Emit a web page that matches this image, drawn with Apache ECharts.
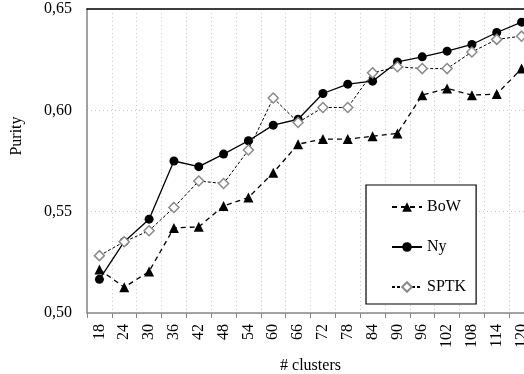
<!DOCTYPE html>
<html>
<head>
<meta charset="utf-8">
<script src="https://cdn.jsdelivr.net/npm/echarts@6/dist/echarts.min.js"></script>
<style>
  html, body { margin: 0; padding: 0; background: #fff; }
  #chart { width: 524px; height: 374px; }
</style>
</head>
<body>
<div id="chart"></div>
<script>
// cluster counts on the x axis
const clusters = ['18', '24', '30', '36', '42', '48', '54', '60', '66', '72', '78', '84', '90', '96', '102', '108', '114', '120'];

// purity values
const bow  = [0.5215, 0.5127, 0.5205, 0.5420, 0.5425, 0.5528, 0.5570, 0.5692, 0.5833, 0.5858, 0.5858, 0.5872, 0.5886, 0.6075, 0.6108, 0.6075, 0.6080, 0.6206];
const ny   = [0.5166, 0.5352, 0.5463, 0.5750, 0.5722, 0.5784, 0.5850, 0.5927, 0.5956, 0.6083, 0.6129, 0.6144, 0.6239, 0.6264, 0.6292, 0.6325, 0.6384, 0.6435];
const sptk = [0.5283, 0.5352, 0.5406, 0.5521, 0.5651, 0.5639, 0.5804, 0.6061, 0.5940, 0.6014, 0.6014, 0.6185, 0.6215, 0.6206, 0.6206, 0.6288, 0.6350, 0.6366];

const serif = '"Liberation Serif", "DejaVu Serif", serif';

const chart = echarts.init(document.getElementById('chart'), null, { renderer: 'canvas' });

const option = {
  animation: false,
  backgroundColor: '#fff',
  textStyle: { fontFamily: serif, color: '#000' },
  // plot area runs past the right edge, like the cropped original
  grid: { left: 87, top: 9, bottom: 61, right: -10, containLabel: false, outerBoundsMode: 'none' },
  legend: {
    orient: 'vertical',
    left: 366,
    top: 185,
    width: 100,
    padding: [14, 10, 9, 25],
    itemGap: 24,
    itemWidth: 30,
    itemHeight: 12,
    backgroundColor: '#fff',
    borderColor: '#000',
    borderWidth: 1.2,
    borderRadius: 0,
    textStyle: { fontFamily: serif, fontSize: 16, color: '#000', width: 50 },
    data: ['BoW', 'Ny', 'SPTK']
  },
  xAxis: [{
    type: 'category',
    data: clusters,
    boundaryGap: true,
    name: '# clusters',
    nameLocation: 'middle',
    nameGap: 45,
    nameTextStyle: { fontFamily: serif, fontSize: 16, color: '#000' },
    axisLine: { lineStyle: { color: '#868686', width: 1.5 } },
    axisTick: { show: true, length: 5, lineStyle: { color: '#868686' } },
    axisLabel: { rotate: 90, margin: 11, fontFamily: serif, fontSize: 16, color: '#000' },
    splitLine: { show: true, lineStyle: { color: '#c8c8c8', type: [1, 3] } }
  }, {
    type: 'category',
    data: clusters,
    position: 'top',
    axisLine: { lineStyle: { color: '#000', width: 1.5 } },
    axisTick: { show: false },
    axisLabel: { show: false },
    splitLine: { show: false }
  }],
  yAxis: {
    type: 'value',
    min: 0.5,
    max: 0.65,
    interval: 0.05,
    name: 'Purity',
    nameLocation: 'middle',
    nameGap: 62,
    nameRotate: 90,
    nameTextStyle: { fontFamily: serif, fontSize: 16, color: '#000', padding: [0, 0, 0, 50] },
    axisLine: { show: true, lineStyle: { color: '#868686', width: 1.5 } },
    axisTick: { show: false },
    axisLabel: {
      margin: 15,
      fontFamily: serif,
      fontSize: 16,
      color: '#000',
      formatter: v => v.toFixed(2).replace('.', ',')
    },
    splitLine: { show: true, lineStyle: { color: '#c8c8c8', type: [1, 3] } }
  },
  series: [
    {
      name: 'BoW',
      type: 'line',
      data: bow,
      symbol: 'triangle',
      symbolSize: 10,
      itemStyle: { color: '#000' },
      lineStyle: { color: '#000', width: 1.3, type: [5, 4] },
      z: 3
    },
    {
      name: 'Ny',
      type: 'line',
      data: ny,
      symbol: 'circle',
      symbolSize: 9,
      itemStyle: { color: '#000' },
      lineStyle: { color: '#000', width: 1.3, type: 'solid' },
      z: 4
    },
    {
      name: 'SPTK',
      type: 'line',
      data: sptk,
      symbol: 'diamond',
      symbolSize: 10,
      itemStyle: { color: '#fff', borderColor: '#8a8a8a', borderWidth: 1.5 },
      lineStyle: { color: '#000', width: 1, type: [3, 2] },
      z: 5
    }
  ]
};

chart.setOption(option);
</script>
</body>
</html>
